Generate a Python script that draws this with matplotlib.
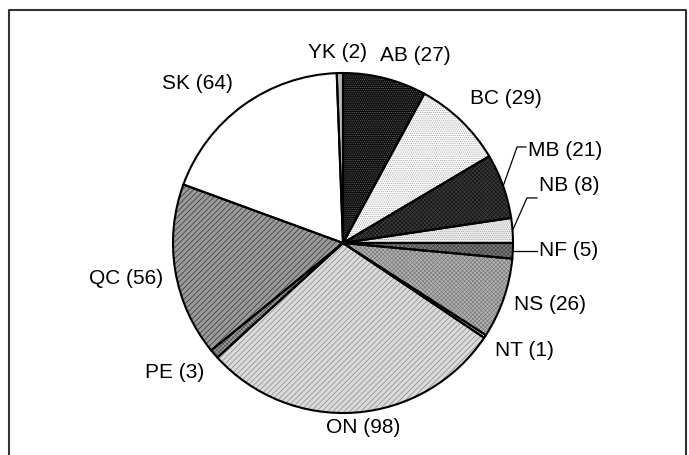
import matplotlib
matplotlib.use("Agg")
import matplotlib.pyplot as plt
from matplotlib.patches import Wedge
from matplotlib.lines import Line2D
import numpy as np

plt.rcParams['font.family'] = ['Liberation Sans', 'DejaVu Sans']
plt.rcParams['hatch.linewidth'] = 0.5

# Count per province / territory
provinces = ["AB", "BC", "MB", "NB", "NF", "NS", "NT", "ON", "PE", "QC", "SK", "YK"]
counts = [27, 29, 21, 8, 5, 26, 1, 98, 3, 56, 64, 2]

# Fill style per slice: (face colour, hatch pattern, hatch colour)
fills = {
    "AB": ("#080808", "........", "#707070"),
    "BC": ("#ffffff", "........", "#9a9a9a"),
    "MB": ("#3a3a3a", "xxxxxxxx", "#141414"),
    "NB": ("#f0f0f0", "........", "#9a9a9a"),
    "NF": ("#7c7c7c", "xxxxxxxx", "#464646"),
    "NS": ("#b4b4b4", "xxxxxxxx", "#7a7a7a"),
    "NT": ("#dddddd", "", "#dddddd"),
    "ON": ("#dadada", "//////", "#888888"),
    "PE": ("#9a9a9a", "xxxxxxxx", "#565656"),
    "QC": ("#9a9a9a", "//////", "#333333"),
    "SK": ("#ffffff", "", "#ffffff"),
    "YK": ("#b8b8b8", "", "#b8b8b8"),
}

W, H, DPI = 689, 455, 100
fig = plt.figure(figsize=(W / DPI, H / DPI), dpi=DPI)
fig.patch.set_facecolor("white")

# pie centre and radius in pixels
cx, cy, R = 343, 243, 170
ax = fig.add_axes([(cx - R) / W, (H - cy - R) / H, 2 * R / W, 2 * R / H])

faces = [fills[p][0] for p in provinces]
wedges, _ = ax.pie(counts, startangle=90, counterclock=False, colors=faces,
                   radius=1, wedgeprops=dict(linewidth=0))
ax.set_xlim(-1, 1)
ax.set_ylim(-1, 1)
ax.axis("off")

for w, p in zip(wedges, provinces):
    face, hatch, hcol = fills[p]
    if hatch:
        hp = Wedge(w.center, w.r, w.theta1, w.theta2, facecolor="none",
                   edgecolor=hcol, linewidth=0, hatch=hatch)
        ax.add_patch(hp)
for w in wedges:
    ax.add_patch(Wedge(w.center, w.r, w.theta1, w.theta2, facecolor="none",
                       edgecolor="black", linewidth=1.5, clip_on=False))

# label placement: radial distance and angular nudge (degrees)
label_layout = {
    "AB": (1.18, -6.7), "BC": (1.28, -4.4), "NS": (1.27, 2.4),
    "NT": (1.24, 2.8), "ON": (1.09, 2.0), "PE": (1.25, -3.2),
    "QC": (1.29, -0.3), "SK": (1.27, 6.4), "YK": (1.12, 0.7),
}
# leader-line labels: elbow point, end x of the line, text y
leader_layout = {
    "MB": ((1.024, 0.565), 1.076, 0.547),
    "NB": ((1.082, 0.265), 1.141, 0.341),
    "NF": (None, 1.141, None),
}

fs = 15
for w, p, n in zip(wedges, provinces, counts):
    mid = np.deg2rad((w.theta1 + w.theta2) / 2)
    text = f"{p} ({n})"
    if p in label_layout:
        r, nudge = label_layout[p]
        a = mid + np.deg2rad(nudge)
        ax.text(r * np.cos(a), r * np.sin(a), text, ha="center", va="center",
                fontsize=fs, clip_on=False)
    else:
        elbow, xend, ty = leader_layout[p]
        x0, y0 = np.cos(mid), np.sin(mid)
        if elbow is None:
            xs, ys = [x0, xend], [y0, y0]
            ty = y0
        else:
            xs, ys = [x0, elbow[0], xend], [y0, elbow[1], elbow[1]]
        ax.add_line(Line2D(xs, ys, color="black", linewidth=0.9, clip_on=False))
        ax.text(xend + 0.012, ty, text, ha="left", va="center",
                fontsize=fs, clip_on=False)

# chart-area frame
fig.add_artist(Line2D([8.5 / W, 8.5 / W, 686 / W, 686 / W],
                      [0, 1 - 9.5 / H, 1 - 9.5 / H, 0],
                      transform=fig.transFigure, color="#333333", linewidth=1.5))

fig.savefig("out.png", dpi=DPI)
